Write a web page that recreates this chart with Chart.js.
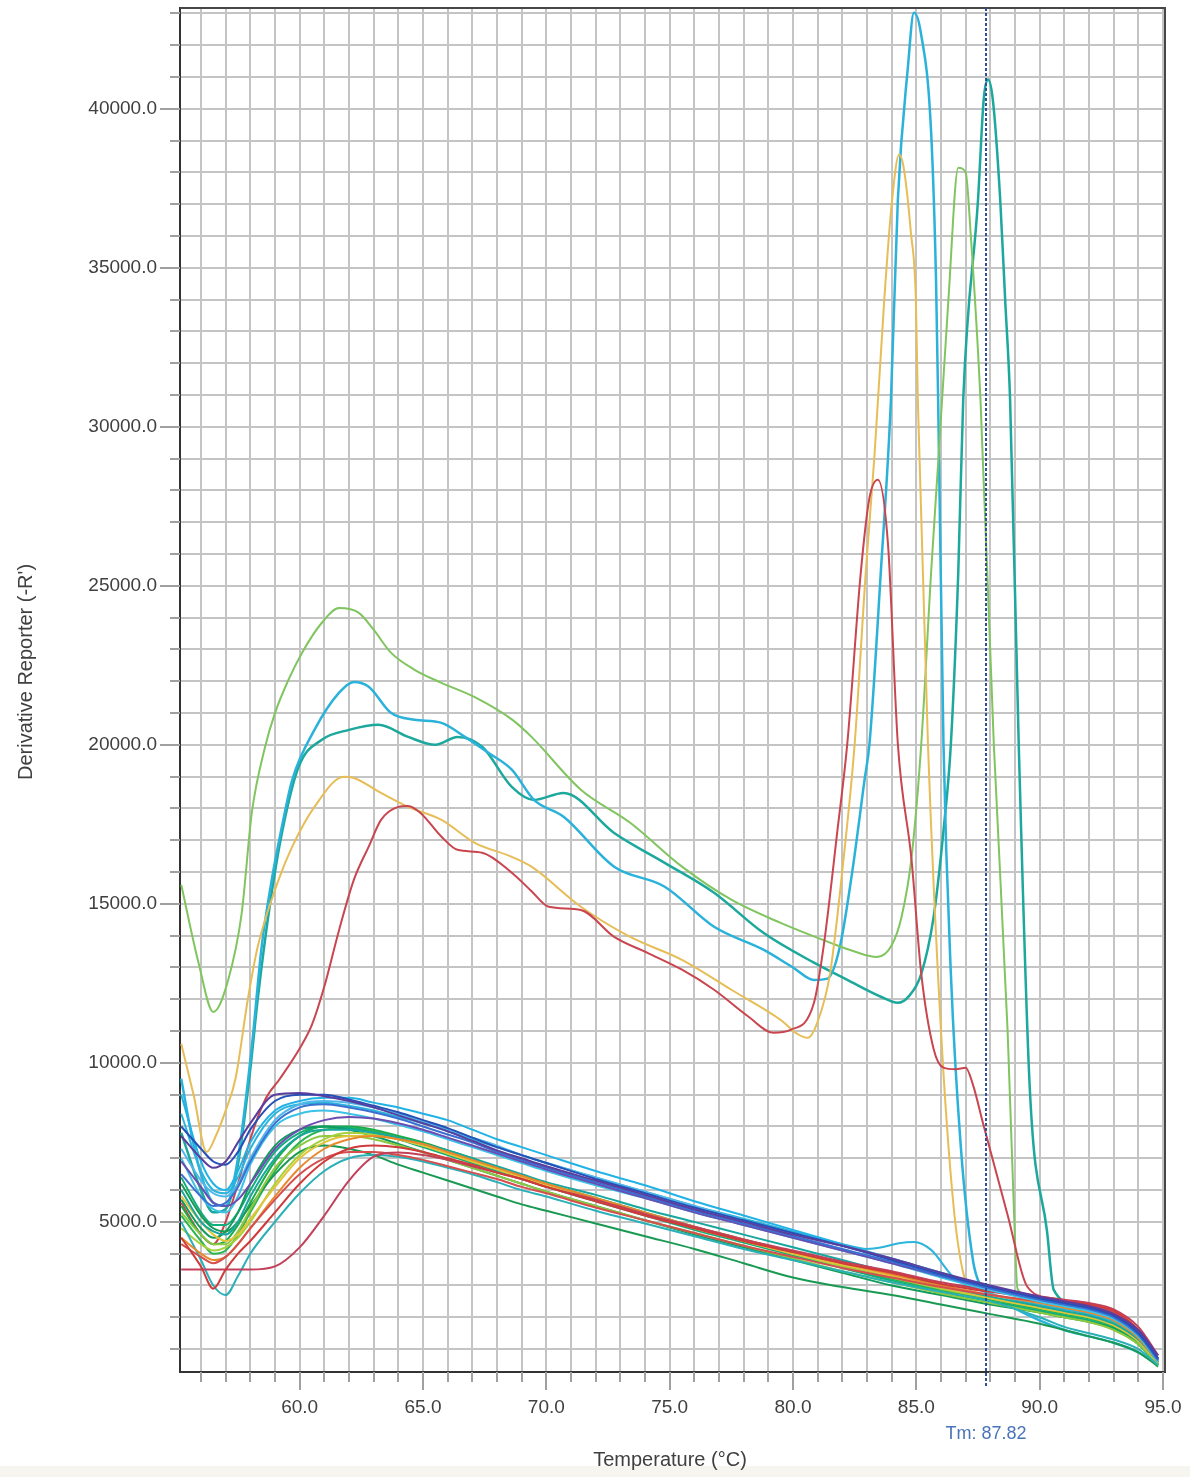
<!DOCTYPE html>
<html>
<head>
<meta charset="utf-8">
<script src="https://cdn.jsdelivr.net/npm/chart.js@4.4.1/dist/chart.umd.min.js"></script>
<style>
  html, body { margin: 0; padding: 0; background: #fff; }
  #wrap { width: 1190px; height: 1477px; }
</style>
</head>
<body>
<div id="wrap"><canvas id="melt" width="1190" height="1477"></canvas></div>
<script>
// axis labels
const xLabelTemps = [60, 65, 70, 75, 80, 85, 90, 95];
const yLabelValues = [5000, 10000, 15000, 20000, 25000, 30000, 35000, 40000];
const tmValue = 87.82;

// highlighted wells
const greenT = [55.2, 55.9, 56.5, 57.1, 57.65, 58.06, 58.6, 59.0, 59.55, 60.1, 60.9, 61.6, 62.4, 63.0, 63.7, 64.66, 65.75, 67.1, 68.6, 69.4, 71.4, 73.4, 75.5, 77.5, 79.5, 81.5, 82.5, 83.4, 84.0, 84.4, 84.8, 85.2, 85.6, 85.9, 86.3, 86.7, 87.0, 87.2, 87.6, 88.14, 88.7, 88.95, 89.1, 90, 91, 92, 93, 94, 94.8];
const greenV = [15600, 13150, 11600, 12600, 14700, 17860, 19940, 21000, 22050, 22900, 23840, 24300, 24150, 23620, 22900, 22360, 21950, 21500, 20800, 20250, 18590, 17550, 16170, 15130, 14400, 13780, 13500, 13330, 13700, 14590, 16420, 20030, 25440, 29060, 34000, 38150, 38000, 36100, 30850, 20030, 11000, 5500, 2900, 2500, 2300, 2100, 1800, 1300, 600];

const cyanT = [55.2, 55.6, 56.0, 56.5, 57.0, 57.5, 58.06, 58.46, 58.87, 59.3, 59.7, 60.6, 61.6, 62.2, 62.8, 63.7, 64.66, 65.75, 66.7, 67.65, 68.6, 69.5, 70.7, 72.75, 74.8, 76.8, 78.8, 80.0, 80.85, 81.4, 81.9, 82.4, 82.9, 83.1, 83.56, 83.97, 84.25, 84.66, 84.9, 85.18, 85.6, 85.8, 85.9, 86.1, 86.4, 86.8, 87.3, 87.6, 88.5, 90, 91, 92, 93, 94, 94.8];
const cyanV = [9500, 7800, 6500, 5600, 5500, 7000, 10500, 13650, 15760, 17500, 18900, 20470, 21640, 21980, 21830, 21010, 20790, 20690, 20250, 19750, 19220, 18270, 17740, 16170, 15540, 14280, 13560, 13000, 12610, 12650, 13650, 16000, 18900, 20030, 25440, 30850, 37140, 41330, 43020, 42400, 39250, 34530, 30000, 20030, 12800, 7390, 3770, 3000, 2500, 1900, 1600, 1400, 1200, 900, 500];

const tealT = [55.2, 56.0, 56.5, 57.0, 57.5, 58.0, 58.3, 58.8, 59.3, 59.96, 60.9, 62.0, 63.2, 64.4, 65.5, 66.4, 67.4, 68.6, 69.5, 70.7, 72.75, 74.8, 76.8, 78.8, 80.85, 82.2, 83.56, 84.25, 84.7, 85.2, 85.7, 86.1, 86.4, 86.7, 86.9, 87.5, 87.73, 87.9, 88.1, 88.4, 88.6, 88.8, 89.15, 89.6, 90.3, 90.57, 91.5, 92.5, 93.5, 94.8];
const tealV = [7800, 6000, 5300, 5400, 6800, 9800, 12000, 15000, 17300, 19310, 20160, 20470, 20630, 20250, 20000, 20250, 19940, 18680, 18270, 18490, 17230, 16290, 15350, 14090, 13150, 12610, 12080, 11890, 12100, 12800, 14590, 17300, 20030, 25440, 30850, 37140, 40290, 40920, 40290, 37140, 34000, 30850, 20030, 9180, 4690, 2860, 2400, 2100, 1600, 600];

const yellowT = [55.2, 55.7, 56.23, 56.6, 57.0, 57.4, 57.9, 58.3, 59.15, 59.7, 60.6, 61.8, 62.2, 63.3, 64.4, 65.75, 67.1, 68.6, 69.4, 71.4, 73.4, 75.5, 77.5, 79.5, 80.2, 80.6, 81.0, 81.5, 82.05, 82.5, 82.95, 83.3, 83.7, 84.0, 84.3, 84.5, 84.78, 84.98, 85.06, 85.47, 86.0, 86.5, 86.9, 87.5, 88.5, 90, 91, 92, 93, 94, 94.8];
const yellowV = [10600, 9000, 7200, 7700, 8500, 9500, 12000, 13650, 15760, 16800, 18050, 19000, 18960, 18490, 18050, 17640, 16920, 16480, 16170, 14910, 13960, 13240, 12300, 11350, 10900, 10790, 11300, 12800, 16420, 20030, 25440, 29060, 34000, 37000, 38560, 38090, 36100, 34000, 30850, 20030, 11000, 5570, 3400, 2700, 2500, 2250, 2150, 2000, 1750, 1250, 550];

const redT = [55.2, 56.0, 56.5, 57.0, 57.5, 58.0, 58.6, 59.2, 60.0, 60.5, 61.0, 61.6, 62.2, 62.8, 63.3, 64.0, 64.4, 64.9, 65.75, 66.4, 67.4, 68.6, 69.4, 70.1, 71.4, 72.75, 74.1, 75.5, 76.8, 78.2, 79.2, 79.9, 80.85, 81.25, 81.8, 82.2, 82.75, 83.1, 83.44, 83.85, 84.25, 84.8, 85.2, 85.7, 86.1, 86.6, 87.0, 87.3, 87.7, 88.7, 89.5, 90.5, 91.5, 92.5, 93.5, 94.8];
const redV = [5600, 4600, 4300, 5000, 6200, 7600, 8840, 9500, 10450, 11200, 12400, 14180, 15760, 16800, 17640, 18050, 18080, 17860, 17110, 16700, 16610, 15980, 15400, 14910, 14810, 13960, 13460, 12930, 12300, 11450, 10950, 11040, 11890, 13710, 17300, 20030, 25440, 27770, 28340, 26320, 20030, 16420, 12800, 10440, 9850, 9800, 9850, 9300, 8110, 5220, 2960, 2600, 2450, 2300, 1900, 700];

// the low bundle of wells, all sampled at the same temperatures
const bundleT = [55.2, 56, 56.5, 57, 57.5, 58, 59, 60, 61, 62, 63, 64, 65, 66, 67, 68, 69, 70, 72, 74, 76, 78, 80, 82, 84, 86, 88, 90, 91, 92, 93, 94, 94.8];

const bPurple1 = [7700, 7000, 6700, 6900, 7500, 8100, 9000, 9050, 8950, 8800, 8600, 8350, 8100, 7850, 7550, 7250, 7000, 6750, 6300, 5850, 5400, 5000, 4600, 4250, 3850, 3400, 3000, 2650, 2500, 2350, 2100, 1600, 800];
const bBlue1 = [8000, 7300, 6900, 6800, 7200, 7900, 8800, 9000, 9000, 8850, 8650, 8450, 8200, 7950, 7650, 7350, 7100, 6850, 6350, 5900, 5450, 5050, 4650, 4250, 3800, 3350, 2950, 2600, 2450, 2300, 2050, 1500, 700];
const bBlue2 = [6500, 5800, 5500, 5600, 6100, 6900, 8100, 8600, 8700, 8600, 8450, 8250, 8000, 7750, 7500, 7200, 6950, 6700, 6250, 5800, 5350, 4950, 4550, 4150, 3750, 3300, 2900, 2550, 2400, 2250, 2000, 1450, 650];
const bPurple2 = [6900, 6100, 5600, 5500, 5700, 6200, 7300, 7900, 8200, 8300, 8250, 8100, 7900, 7650, 7400, 7150, 6900, 6650, 6200, 5750, 5300, 4900, 4500, 4100, 3700, 3300, 2950, 2650, 2500, 2350, 2100, 1550, 700];
const bSky1 = [7300, 6300, 5900, 5800, 6200, 7000, 8200, 8700, 8800, 8750, 8600, 8400, 8150, 7900, 7650, 7400, 7100, 6850, 6400, 5950, 5500, 5050, 4650, 4250, 3850, 3400, 2950, 2600, 2450, 2300, 2050, 1500, 650];
const bCyan1 = [9000, 6900, 6200, 6000, 6600, 7500, 8500, 8800, 8900, 8900, 8750, 8600, 8400, 8200, 7900, 7600, 7350, 7100, 6600, 6150, 5650, 5200, 4750, 4300, 3850, 3400, 2950, 2550, 2400, 2250, 2000, 1450, 650];
const bCyan2 = [7000, 5800, 5400, 5300, 5800, 6800, 8000, 8400, 8500, 8400, 8250, 8050, 7850, 7600, 7350, 7100, 6850, 6600, 6150, 5750, 5300, 4900, 4500, 4100, 3700, 3250, 2850, 2500, 2350, 2200, 1950, 1400, 600];
const bRed1 = [4500, 3600, 2900, 3500, 4000, 4400, 5300, 6200, 6900, 7300, 7400, 7350, 7200, 7000, 6800, 6550, 6350, 6100, 5650, 5200, 4800, 4400, 4050, 3700, 3400, 3050, 2800, 2600, 2500, 2400, 2200, 1600, 700];
const bRed2 = [3500, 3500, 3500, 3500, 3500, 3500, 3600, 4200, 5200, 6300, 7050, 7180, 7100, 6950, 6750, 6550, 6350, 6100, 5700, 5250, 4850, 4450, 4100, 3750, 3450, 3100, 2850, 2650, 2550, 2450, 2250, 1700, 800];
const bRed3 = [4300, 3900, 3700, 3900, 4300, 4800, 5700, 6500, 7000, 7200, 7200, 7100, 6950, 6750, 6550, 6350, 6100, 5900, 5450, 5050, 4650, 4250, 3900, 3550, 3250, 2950, 2700, 2500, 2400, 2300, 2100, 1550, 700];
const bOrange = [4500, 4000, 3800, 3900, 4300, 4800, 5800, 6700, 7300, 7600, 7700, 7600, 7450, 7200, 6950, 6700, 6450, 6200, 5750, 5300, 4850, 4450, 4050, 3700, 3350, 3000, 2700, 2450, 2300, 2150, 1900, 1350, 600];
const bTealLow = [5000, 3800, 3000, 2700, 3300, 4000, 5000, 5900, 6600, 7000, 7100, 7050, 6900, 6700, 6500, 6250, 6000, 5800, 5350, 4950, 4550, 4150, 3800, 3450, 3100, 2800, 2500, 2000, 1700, 1500, 1300, 1000, 500];
const bTeal = [6000, 5000, 4700, 4600, 5000, 5800, 7000, 7700, 7900, 7900, 7800, 7650, 7450, 7250, 7000, 6750, 6500, 6250, 5850, 5400, 5000, 4600, 4200, 3800, 3400, 3000, 2650, 2350, 2200, 2050, 1800, 1300, 600];
const bYellow = [5800, 5000, 4600, 4400, 4600, 5100, 6100, 7000, 7500, 7700, 7700, 7600, 7400, 7150, 6900, 6650, 6400, 6150, 5700, 5250, 4800, 4400, 4000, 3650, 3300, 2950, 2600, 2300, 2150, 2000, 1750, 1250, 550];
const bLime1 = [4800, 4300, 4100, 4200, 4500, 5000, 6200, 7100, 7600, 7800, 7750, 7600, 7400, 7150, 6900, 6650, 6400, 6150, 5700, 5250, 4850, 4400, 4000, 3600, 3250, 2900, 2600, 2300, 2150, 2000, 1800, 1300, 600];
const bLime2 = [5300, 4600, 4300, 4300, 4700, 5400, 6700, 7400, 7700, 7700, 7600, 7400, 7200, 6950, 6700, 6450, 6200, 5950, 5500, 5050, 4650, 4250, 3850, 3450, 3100, 2750, 2450, 2150, 2000, 1850, 1600, 1150, 500];
const bGreenLow = [6200, 5200, 4800, 4700, 5000, 5500, 6500, 7200, 7400, 7300, 7100, 6800, 6550, 6300, 6050, 5800, 5550, 5350, 4950, 4550, 4150, 3700, 3250, 2950, 2700, 2400, 2100, 1800, 1600, 1400, 1200, 900, 450];
const bGreen3 = [5700, 4800, 4500, 4700, 5300, 6200, 7400, 7900, 8000, 7900, 7700, 7450, 7200, 6950, 6700, 6450, 6200, 5950, 5500, 5050, 4600, 4200, 3800, 3400, 3000, 2700, 2400, 2150, 2000, 1850, 1650, 1150, 500];
const bSeaGreen = [6400, 5300, 4900, 4900, 5300, 6000, 7200, 7800, 8000, 7950, 7800, 7600, 7350, 7100, 6850, 6600, 6350, 6100, 5650, 5200, 4750, 4350, 3950, 3550, 3150, 2800, 2500, 2200, 2050, 1900, 1650, 1150, 500];
const bGreen2 = [5200, 4400, 4000, 4100, 4600, 5300, 6600, 7500, 7900, 7950, 7850, 7650, 7400, 7150, 6900, 6650, 6400, 6150, 5700, 5250, 4800, 4400, 4000, 3600, 3200, 2850, 2550, 2250, 2100, 1950, 1700, 1200, 500];
const bGreen1 = [5500, 4600, 4300, 4400, 4900, 5600, 6900, 7700, 8000, 8000, 7900, 7700, 7500, 7250, 7000, 6700, 6450, 6200, 5750, 5300, 4850, 4450, 4050, 3650, 3250, 2900, 2600, 2300, 2150, 2000, 1750, 1250, 550];

// one well with a small shoulder near 85 degrees
const bumpT = [55.2, 56, 56.5, 57, 57.5, 58, 59, 60, 61, 62, 63, 64, 65, 66, 67, 68, 69, 70, 72, 74, 76, 78, 80, 82, 83, 83.6, 84.3, 84.9, 85.6, 86.5, 88, 90, 91, 92, 93, 94, 94.8];
const bumpV = [8400, 6600, 6000, 5900, 6400, 7300, 8400, 8700, 8750, 8650, 8500, 8300, 8100, 7850, 7600, 7350, 7100, 6850, 6400, 5950, 5500, 5100, 4700, 4300, 4150, 4200, 4330, 4370, 4120, 3270, 2750, 2400, 2250, 2100, 1850, 1300, 600];

const bundle = [bPurple1, bBlue1, bBlue2, bPurple2, bSky1, bCyan1, bCyan2, bRed1, bRed2, bRed3, bOrange, bTealLow, bTeal, bYellow, bLime1, bLime2, bGreenLow, bGreen3, bSeaGreen, bGreen2, bGreen1];
const bundleColors = ['#5b3d9e', '#2550b8', '#3a70d2', '#6b4cb2', '#4fb7ea', '#22b3e6', '#3cc2e6', '#cf3a3a', '#c2405a', '#d64e4e', '#e8892c', '#2ab0b8', '#17a79e', '#e2c43a', '#a8d03c', '#8cc840', '#199a52', '#109c5c', '#0fae7a', '#2db552', '#1bab47'];

const pts = (ts, vs) => ts.map((t, i) => ({ x: t, y: vs[i] }));

const datasets = bundle.map((vs, i) => ({
  data: pts(bundleT, vs),
  borderColor: bundleColors[i],
  borderWidth: 2
}));
datasets.push({ data: pts(bumpT, bumpV), borderColor: '#2bb5dc', borderWidth: 2 });
datasets.push({ data: pts(redT, redV), borderColor: '#c9454f', borderWidth: 2 });
datasets.push({ data: pts(yellowT, yellowV), borderColor: '#e6bd57', borderWidth: 2 });
datasets.push({ data: pts(greenT, greenV), borderColor: '#80c560', borderWidth: 2 });
datasets.push({ data: pts(cyanT, cyanV), borderColor: '#2ab2da', borderWidth: 2.5 });
datasets.push({ data: pts(tealT, tealV), borderColor: '#1ca89c', borderWidth: 2.5 });

const textColor = '#404040';
const fontName = "'Liberation Sans', Arial, sans-serif";

// grid every 1 degree and every 1000 units
const xGrid = [];
for (let t = 56; t <= 95; t++) xGrid.push(t);
const yGrid = [];
for (let v = 1000; v <= 43000; v += 1000) yGrid.push(v);

const framePlugin = {
  id: 'frame',
  beforeDraw(chart) {
    const c = chart.ctx;
    c.save();
    c.fillStyle = '#ffffff';
    c.fillRect(0, 0, chart.width, chart.height);
    c.fillStyle = '#f7f5ef';
    c.fillRect(0, 1466, chart.width, 11);
    c.restore();
  },
  afterDraw(chart) {
    const c = chart.ctx;
    const a = chart.chartArea;
    const xs = chart.scales.x;
    const ys = chart.scales.y;
    c.save();

    // tick marks
    c.strokeStyle = '#a0a0a0';
    c.lineWidth = 2;
    c.beginPath();
    xGrid.forEach(t => {
      const px = Math.round(xs.getPixelForValue(t));
      c.moveTo(px, a.bottom);
      c.lineTo(px, a.bottom + (t % 5 === 0 ? 18 : 10));
    });
    yGrid.forEach(v => {
      const py = Math.round(ys.getPixelForValue(v));
      c.moveTo(a.left, py);
      c.lineTo(a.left - (v % 5000 === 0 ? 20 : 10), py);
    });
    c.stroke();

    // top and right frame
    c.strokeStyle = '#474747';
    c.lineWidth = 2;
    c.beginPath();
    c.moveTo(a.left, a.top);
    c.lineTo(a.right, a.top);
    c.lineTo(a.right, a.bottom);
    c.stroke();

    // Tm marker
    const tx = Math.round(xs.getPixelForValue(tmValue));
    c.strokeStyle = '#2f4f98';
    c.lineWidth = 2;
    c.setLineDash([3, 2]);
    c.beginPath();
    c.moveTo(tx, a.top);
    c.lineTo(tx, a.bottom + 14);
    c.stroke();
    c.setLineDash([]);

    c.fillStyle = '#4a74b8';
    c.font = '18px ' + fontName;
    c.textAlign = 'center';
    c.textBaseline = 'middle';
    c.fillText('Tm: ' + tmValue.toFixed(2), tx, 1434);

    // axis titles
    c.fillStyle = textColor;
    c.font = '20px ' + fontName;
    c.fillText('Temperature (°C)', 670, 1460);
    c.translate(26, 672);
    c.rotate(-Math.PI / 2);
    c.fillText("Derivative Reporter (-R')", 0, 0);
    c.restore();
  }
};

new Chart(document.getElementById('melt'), {
  type: 'line',
  data: { datasets },
  options: {
    responsive: false,
    devicePixelRatio: 1,
    animation: false,
    layout: { padding: { top: 8, right: 25, left: 0, bottom: 0 } },
    elements: {
      point: { radius: 0 },
      line: { cubicInterpolationMode: 'monotone' }
    },
    plugins: { legend: { display: false }, tooltip: { enabled: false } },
    scales: {
      x: {
        type: 'linear',
        min: 55.15,
        max: 95.08,
        afterBuildTicks: s => { s.ticks = xGrid.map(v => ({ value: v })); },
        afterFit: s => {
          s.height = 105;
          s.paddingLeft = 0;
          s.paddingRight = 0;
        },
        grid: { color: '#c4c4c4', lineWidth: 2, drawTicks: false },
        border: { color: '#333333', width: 2 },
        ticks: {
          autoSkip: false,
          maxRotation: 0,
          padding: 24,
          color: textColor,
          font: { family: fontName, size: 19 },
          callback: v => xLabelTemps.includes(v) ? v.toFixed(1) : ''
        }
      },
      y: {
        type: 'linear',
        min: 280,
        max: 43170,
        afterBuildTicks: s => { s.ticks = yGrid.map(v => ({ value: v })); },
        afterFit: s => {
          s.width = 180;
          s.paddingTop = 0;
          s.paddingBottom = 0;
        },
        grid: { color: '#c4c4c4', lineWidth: 2, drawTicks: false },
        border: { color: '#333333', width: 2 },
        ticks: {
          autoSkip: false,
          padding: 23,
          color: textColor,
          font: { family: fontName, size: 19 },
          callback: v => yLabelValues.includes(v) ? v.toFixed(1) : ''
        }
      }
    }
  },
  plugins: [framePlugin]
});
</script>
</body>
</html>
